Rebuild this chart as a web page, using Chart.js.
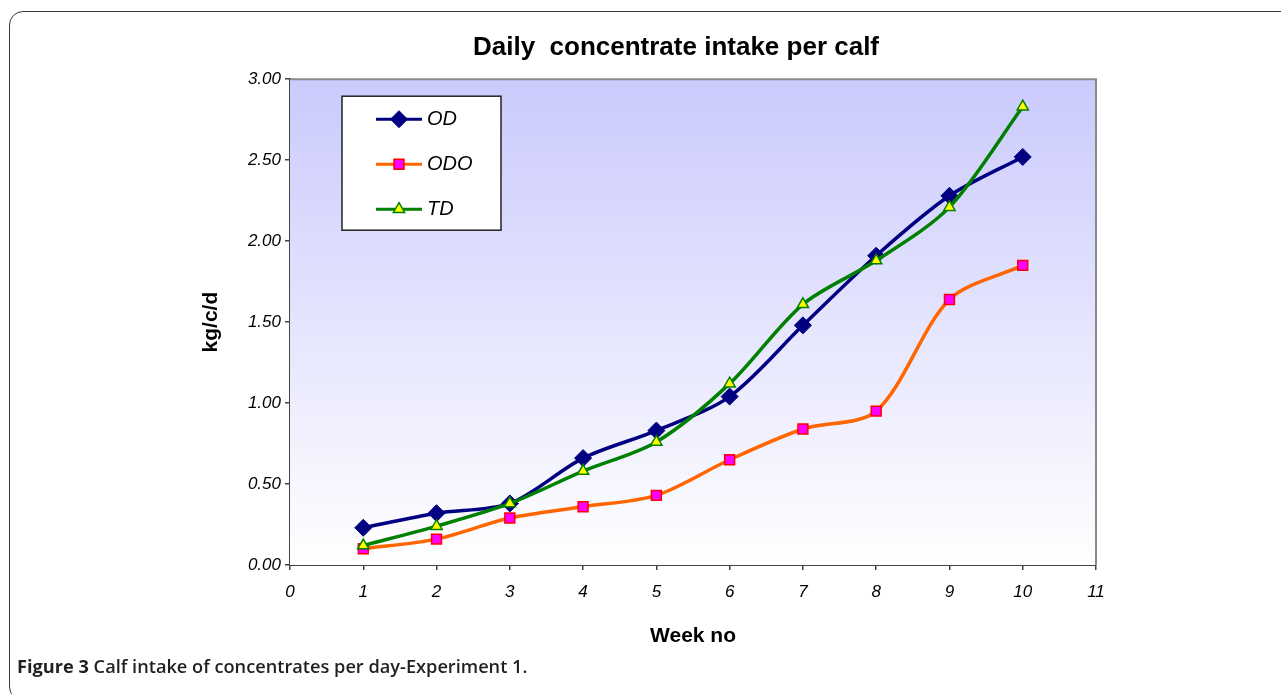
<!DOCTYPE html>
<html>
<head>
<meta charset="utf-8">
<script src="https://cdn.jsdelivr.net/npm/chart.js@4.4.0/dist/chart.umd.min.js"></script>
<style>
  html, body { margin: 0; padding: 0; background: #fff; overflow: hidden; }
  #frame { position: absolute; left: 9px; top: 11px; width: 1300px; height: 690px;
           border: 1.5px solid #3a3a3a; border-radius: 14px; box-sizing: border-box; }
  #wrap { position: absolute; left: 0; top: 0; width: 1281px; height: 694px; }
  #caption { position: absolute; left: 17px; top: 654px; font-family: "Open Sans", sans-serif;
             font-size: 18.2px; font-weight: 600; color: #231f20; white-space: nowrap; }
  #caption b { font-weight: 700; }
</style>
</head>
<body>
<div id="frame"></div>
<div id="wrap"><canvas id="chart"></canvas></div>
<div id="caption"><b>Figure 3</b> Calf intake of concentrates per day-Experiment 1.</div>
<script>
// values (kg concentrate per calf per day)
const weeks = [1, 2, 3, 4, 5, 6, 7, 8, 9, 10];
const odValues = [0.23, 0.32, 0.38, 0.66, 0.83, 1.04, 1.48, 1.91, 2.28, 2.52];
const odoValues = [0.10, 0.16, 0.29, 0.36, 0.43, 0.65, 0.84, 0.95, 1.64, 1.85];
const tdValues = [0.12, 0.24, 0.38, 0.58, 0.76, 1.12, 1.61, 1.88, 2.21, 2.83];
const seriesNames = ['OD', 'ODO', 'TD'];

Chart.defaults.font.family = '"Liberation Sans", Arial, sans-serif';
Chart.defaults.color = '#000';

function toPoints(values) {
    return weeks.map(function (w, i) { return { x: w, y: values[i] }; });
}

// light blue fade behind the plot, plus the grey top/right frame
const plotBackground = {
    id: 'plotBackground',
    beforeDatasetsDraw(chart) {
        const { ctx, chartArea: a } = chart;
        const g = ctx.createLinearGradient(0, a.top, 0, a.bottom);
        g.addColorStop(0, '#cacafd');
        g.addColorStop(1, '#ffffff');
        ctx.save();
        ctx.fillStyle = g;
        ctx.fillRect(a.left, a.top, a.right - a.left, a.bottom - a.top);
        ctx.strokeStyle = '#8a8a8a';
        ctx.lineWidth = 2;
        ctx.beginPath();
        ctx.moveTo(a.left, a.top);
        ctx.lineTo(a.right, a.top);
        ctx.lineTo(a.right, a.bottom);
        ctx.stroke();
        ctx.restore();
    }
};

// boxed legend sitting inside the plot, top left
const boxLegend = {
    id: 'boxLegend',
    afterDraw(chart) {
        const { ctx, chartArea: a } = chart;
        const x0 = a.left + 52, y0 = a.top + 17, w = 159, h = 134;
        ctx.save();
        ctx.fillStyle = '#fff';
        ctx.fillRect(x0, y0, w, h);
        ctx.strokeStyle = '#222';
        ctx.lineWidth = 1.5;
        ctx.strokeRect(x0, y0, w, h);
        seriesNames.forEach(function (name, i) {
            const ds = chart.data.datasets.find(function (d) { return d.label === name; });
            const y = y0 + 23 + i * 45;
            ctx.strokeStyle = ds.borderColor;
            ctx.lineWidth = 3;
            ctx.beginPath();
            ctx.moveTo(x0 + 34, y);
            ctx.lineTo(x0 + 80, y);
            ctx.stroke();
            ctx.fillStyle = ds.pointBackgroundColor;
            ctx.strokeStyle = ds.pointBorderColor;
            ctx.lineWidth = ds.pointBorderWidth;
            Chart.helpers.drawPoint(ctx, {
                pointStyle: ds.pointStyle, radius: ds.pointRadius, rotation: 0,
                borderWidth: ds.pointBorderWidth
            }, x0 + 57, y);
            ctx.fillStyle = '#000';
            ctx.font = 'italic 20px "Liberation Sans", Arial, sans-serif';
            ctx.textBaseline = 'middle';
            ctx.fillText(name, x0 + 85, y);
        });
        ctx.restore();
    }
};

new Chart(document.getElementById('chart'), {
    type: 'line',
    data: {
        datasets: [{
            label: 'OD',
            data: toPoints(odValues),
            borderColor: '#000080',
            borderWidth: 3.5,
            pointStyle: 'rectRot',
            pointRadius: 8.5,
            pointBackgroundColor: '#000080',
            pointBorderColor: '#000080',
            pointBorderWidth: 1,
            order: 3
        }, {
            label: 'ODO',
            data: toPoints(odoValues),
            borderColor: '#ff6600',
            borderWidth: 3.5,
            pointStyle: 'rect',
            pointRadius: 7,
            pointBackgroundColor: '#ff00ff',
            pointBorderColor: '#ff0000',
            pointBorderWidth: 1.5,
            order: 2
        }, {
            label: 'TD',
            data: toPoints(tdValues),
            borderColor: '#008000',
            borderWidth: 3.5,
            pointStyle: 'triangle',
            pointRadius: 6.5,
            pointBackgroundColor: '#ffff00',
            pointBorderColor: '#008000',
            pointBorderWidth: 1.5,
            order: 1
        }]
    },
    options: {
        animation: false,
        events: [],
        responsive: true,
        maintainAspectRatio: false,
        elements: { line: { tension: 0.3 } },
        layout: { padding: { left: 71, right: 0, top: 30, bottom: 44 } },
        plugins: {
            legend: { display: false },
            tooltip: { enabled: false },
            title: {
                display: true,
                text: 'Daily  concentrate intake per calf',
                font: { size: 26, weight: 'bold' },
                color: '#000',
                padding: { top: 2, bottom: 16 }
            }
        },
        scales: {
            x: {
                type: 'linear',
                min: 0,
                max: 11,
                ticks: { stepSize: 1, padding: 12, font: { size: 17, style: 'italic' }, color: '#000' },
                grid: { drawOnChartArea: false, drawTicks: true, tickLength: 5, color: '#444', lineWidth: 1.5 },
                border: { color: '#444', width: 2 },
                title: { display: true, text: 'Week no', font: { size: 21, weight: 'bold' }, color: '#000',
                         padding: { top: 0, bottom: 1 } },
                afterFit(scale) { scale.height = 85; }
            },
            y: {
                min: 0,
                max: 3,
                ticks: { stepSize: 0.5, padding: 4, font: { size: 17, style: 'italic' }, color: '#000',
                         callback: function (v) { return v.toFixed(2); } },
                grid: { drawOnChartArea: false, drawTicks: true, tickLength: 5, color: '#444', lineWidth: 1.5 },
                border: { color: '#444', width: 2 },
                title: { display: true, text: 'kg/c/d', font: { size: 21, weight: 'bold' }, color: '#000',
                         padding: { top: 128, bottom: 0 } },
                afterFit(scale) { scale.width = 219; }
            },
            // empty right-hand axis: only reserves the blank margin right of the plot
            yRight: {
                position: 'right',
                min: 0,
                max: 3,
                ticks: { display: false },
                grid: { display: false },
                border: { display: false },
                afterFit(scale) { scale.width = 185; }
            }
        }
    },
    plugins: [plotBackground, boxLegend]
});
</script>
</body>
</html>
